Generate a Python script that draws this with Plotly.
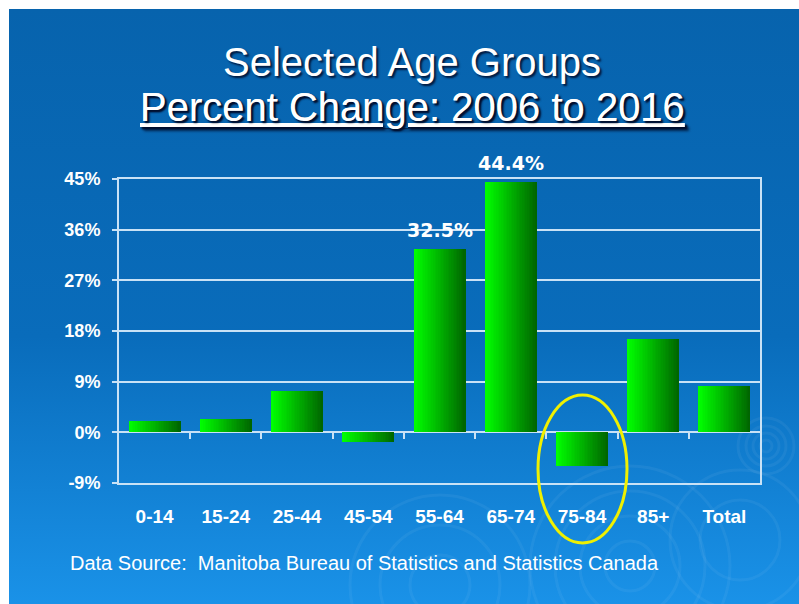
import base64
import plotly.graph_objects as go

# ---- data -------------------------------------------------------------
age_groups = ["0-14", "15-24", "25-44", "45-54", "55-64", "65-74", "75-84", "85+", "Total"]
pct_change = [2.0, 2.3, 7.3, -1.7, 32.5, 44.4, -6.0, 16.5, 8.2]
labelled_groups = ["55-64", "65-74"]
y_ticks = [-9, 0, 9, 18, 27, 36, 45]
y_tick_text = [f"{v}%" for v in y_ticks]

title_line1 = "Selected Age Groups"
title_line2 = "Percent Change: 2006 to 2016"
source_note = "Data Source:  Manitoba Bureau of Statistics and Statistics Canada"

# ---- layout geometry (pixels) ----------------------------------------
W, H = 799, 604
ML, MR, MT, MB = 119, 39, 179, 121
PW, PH = W - ML - MR, H - MT - MB
SLIDE_X0, SLIDE_Y0 = 9, 9          # white strip on the left / top edge


def px_x(px):
    return (px - ML) / PW


def px_y(py):
    return (H - MB - py) / PH


GRID = "#c9e2f6"
WHITE = "#ffffff"
SHADOW = "2px 2px 2px rgba(0,10,40,0.85)"

# ---- slide background as an inline SVG --------------------------------
bw, bh = W - SLIDE_X0, H - SLIDE_Y0
ripples = []
for cx, cy, radii in [(766, 446, [6, 13, 20, 28]),
                      (630, 566, [25, 50, 75, 100]),
                      (440, 585, [30, 60, 90]),
                      (740, 540, [40, 70])]:
    for r in radii:
        ripples.append(
            f'<circle cx="{cx - SLIDE_X0}" cy="{cy - SLIDE_Y0}" r="{r}" fill="none" '
            f'stroke="#ffffff" stroke-opacity="0.05" stroke-width="3"/>')
svg = (
    f'<svg xmlns="http://www.w3.org/2000/svg" width="{bw}" height="{bh}" '
    f'viewBox="0 0 {bw} {bh}" preserveAspectRatio="none">'
    '<defs><linearGradient id="g" x1="0" y1="0" x2="0" y2="1">'
    '<stop offset="0" stop-color="#0763ad"/>'
    '<stop offset="0.55" stop-color="#096cbb"/>'
    '<stop offset="1" stop-color="#1a92e8"/>'
    '</linearGradient></defs>'
    f'<rect x="0" y="0" width="{bw}" height="{bh}" fill="url(#g)"/>'
    + "".join(ripples) + '</svg>'
)
bg_uri = "data:image/svg+xml;base64," + base64.b64encode(svg.encode()).decode()

# ---- bars drawn as vertical colour strips for a left-to-right gradient --
fig = go.Figure()
x_pos = list(range(len(age_groups)))
bar_w = 0.73
n_strips = 32
step = bar_w / n_strips
c0, c1 = (0, 255, 0), (0, 102, 0)
for i in range(n_strips):
    t = i / (n_strips - 1)
    col = "rgb({},{},{})".format(*[round(a + (b - a) * t) for a, b in zip(c0, c1)])
    off = -bar_w / 2 + i * step
    wid = min(step * 1.6, bar_w / 2 - off)
    fig.add_trace(go.Bar(
        x=x_pos, y=pct_change, width=wid, offset=off,
        marker=dict(color=col, line=dict(width=0)),
        showlegend=False, hoverinfo="skip",
    ))

# value labels for highlighted groups
annotations = []
for g in labelled_groups:
    k = age_groups.index(g)
    annotations.append(dict(
        x=k, y=pct_change[k], xref="x", yref="y", text=f"{pct_change[k]}%",
        showarrow=False, yanchor="bottom", yshift=6,
        font=dict(family="DejaVu Sans", size=19, color=WHITE, weight="bold"),
    ))

# invisible trace carrying the category-boundary tick axis
boundaries = [k + 0.5 for k in x_pos[:-1]]
fig.add_trace(go.Scatter(x=boundaries, y=[0] * len(boundaries), xaxis="x2",
                         mode="markers", marker=dict(opacity=0),
                         showlegend=False, hoverinfo="skip"))

# titles and source note
title_font = dict(family="Liberation Sans, Arial", size=40, color=WHITE, shadow=SHADOW)
annotations += [
    dict(x=px_x(412), y=px_y(62), xref="paper", yref="paper", text=title_line1,
         showarrow=False, xanchor="center", yanchor="middle", font=title_font),
    dict(x=px_x(412), y=px_y(107), xref="paper", yref="paper",
         text=f"<u>{title_line2}</u>",
         showarrow=False, xanchor="center", yanchor="middle", font=title_font),
    dict(x=px_x(68), y=px_y(563), xref="paper", yref="paper", text=source_note,
         showarrow=False, xanchor="left", yanchor="middle",
         font=dict(family="Liberation Sans, Arial", size=20, color=WHITE)),
]

zero_pos = (0 - y_ticks[0]) / (y_ticks[-1] - y_ticks[0])

fig.update_layout(
    width=W, height=H,
    margin=dict(l=ML, r=MR, t=MT, b=MB),
    paper_bgcolor="#ffffff",
    plot_bgcolor="rgba(0,0,0,0)",
    barmode="overlay",
    bargap=0,
    images=[dict(source=bg_uri, xref="paper", yref="paper",
                 x=px_x(SLIDE_X0), y=px_y(SLIDE_Y0),
                 sizex=px_x(W) - px_x(SLIDE_X0), sizey=px_y(SLIDE_Y0) - px_y(H),
                 sizing="stretch", xanchor="left", yanchor="top", layer="below")],
    xaxis=dict(
        range=[-0.5, len(age_groups) - 0.5],
        tickvals=x_pos, ticktext=age_groups,
        showgrid=False, zeroline=False, ticks="",
        showline=True, linecolor=GRID, linewidth=2, mirror=True,
        ticklabelstandoff=15,
        tickfont=dict(family="Liberation Sans, Arial", size=19, color=WHITE, weight="bold"),
    ),
    xaxis2=dict(
        overlaying="x", anchor="free", position=zero_pos, side="bottom",
        range=[-0.5, len(age_groups) - 0.5],
        tickvals=boundaries, showticklabels=False,
        ticks="outside", ticklen=6, tickwidth=2, tickcolor=GRID,
        showgrid=False, zeroline=False, showline=False,
    ),
    yaxis=dict(
        range=[y_ticks[0], y_ticks[-1]], tickvals=y_ticks, ticktext=y_tick_text,
        showgrid=True, gridcolor=GRID, gridwidth=2,
        zeroline=True, zerolinecolor=GRID, zerolinewidth=2,
        showline=True, linecolor=GRID, linewidth=2, mirror=True,
        ticks="outside", ticklen=5, tickwidth=2, tickcolor=GRID,
        ticklabelstandoff=8,
        tickfont=dict(family="Liberation Sans, Arial", size=18, color=WHITE, weight="bold"),
    ),
    shapes=[dict(type="circle", xref="paper", yref="paper",
                 x0=px_x(538), x1=px_x(627), y0=px_y(543), y1=px_y(395),
                 line=dict(color="#f0f000", width=3), layer="above")],
    annotations=annotations,
)

fig.write_html("out.html")
